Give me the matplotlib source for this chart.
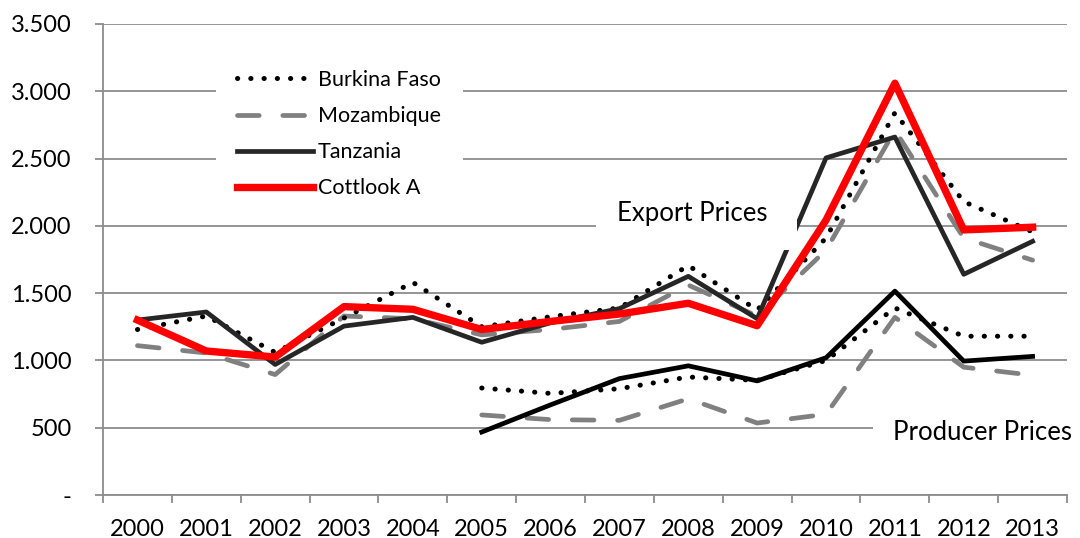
import matplotlib
matplotlib.use("Agg")
import matplotlib.pyplot as plt
import numpy as np
from matplotlib.patches import Rectangle
from matplotlib.ticker import FuncFormatter, FixedLocator

plt.rcParams['font.family'] = ['Lato', 'DejaVu Sans']

# ---- data ----
years = [2000, 2001, 2002, 2003, 2004, 2005, 2006, 2007, 2008, 2009, 2010, 2011, 2012, 2013]

# export prices
burkina_exp = [1230, 1330, 1060, 1315, 1580, 1250, 1325, 1390, 1705, 1375, 1910, 2840, 2180, 1955]
mozambique_exp = [1110, 1055, 895, 1330, 1310, 1190, 1230, 1290, 1560, 1330, 1820, 2710, 1910, 1745]
tanzania_exp = [1300, 1360, 970, 1255, 1320, 1135, 1280, 1385, 1625, 1310, 2505, 2660, 1640, 1885]
cottlook_a = [1300, 1070, 1025, 1400, 1380, 1230, 1290, 1345, 1425, 1258, 2043, 3060, 1970, 1990]

# producer prices (start in 2005)
burkina_prod = [None] * 5 + [795, 755, 790, 877, 852, 1000, 1390, 1180, 1180]
mozambique_prod = [None] * 5 + [595, 560, 555, 715, 535, 600, 1320, 950, 890]
tanzania_prod = [None] * 5 + [468, 670, 865, 960, 848, 1020, 1515, 995, 1030]

y_ticks = [0, 500, 1000, 1500, 2000, 2500, 3000, 3500]


def as_array(vals):
    return np.array([np.nan if v is None else v for v in vals], dtype=float)


fig = plt.figure(figsize=(10.8, 5.38), dpi=100)
ax = fig.add_axes([0.0954, 0.0799, 0.8926, 0.8755])

x = np.arange(len(years))
grey = '#8c8c8c'

dot_style = dict(color='black', lw=3.6, linestyle=(0, (0.05, 2.6)), dash_capstyle='round')
dash_style = dict(color='#808080', lw=3.4, linestyle=(0, (4.6, 5.0)), dash_capstyle='round')

# export prices
ax.plot(x, mozambique_exp, label='Mozambique', zorder=3, **dash_style)
ax.plot(x, burkina_exp, label='Burkina Faso', zorder=4, **dot_style)
ax.plot(x, tanzania_exp, color='#262626', lw=3.4, label='Tanzania', zorder=5)
ax.plot(x, cottlook_a, color='#ff0000', lw=5.3, label='Cottlook A', zorder=8)

# producer prices
ax.plot(x, as_array(mozambique_prod), zorder=3, **dash_style)
ax.plot(x, as_array(burkina_prod), zorder=4, **dot_style)
ax.plot(x, as_array(tanzania_prod), color='black', lw=3.4, zorder=5)

# white text boxes (they hide grid / lines like the original)
ax.add_patch(Rectangle((6.66, 1820), 2.92, 430, facecolor='white', edgecolor='none', zorder=6))
ax.add_patch(Rectangle((10.68, 330), 2.9, 290, facecolor='white', edgecolor='none', zorder=6,
                       clip_on=False))
ax.text(8.05, 2095, 'Export Prices', fontsize=18.5, ha='center', va='center', zorder=6.5)
ax.text(10.97, 468, 'Producer Prices', fontsize=18.5, ha='left', va='center', zorder=6.5)

# axes styling
ax.set_xlim(-0.5, len(years) - 0.5)
ax.set_ylim(0, 3500)
ax.yaxis.set_major_locator(FixedLocator(y_ticks))
ax.yaxis.set_major_formatter(FuncFormatter(
    lambda v, p: '-' if v == 0 else f'{v:,.0f}'.replace(',', '.')))
ax.set_xticks(x)
ax.set_xticklabels([str(y) for y in years])
ax.set_xticks(np.arange(-0.5, len(years)), minor=True)

ax.grid(axis='y', color=grey, lw=1.3, zorder=0)
ax.set_axisbelow(True)
for s in ['top', 'right']:
    ax.spines[s].set_visible(False)
for s in ['left', 'bottom']:
    ax.spines[s].set_color(grey)
    ax.spines[s].set_linewidth(1.3)

ax.tick_params(axis='x', which='major', length=0, pad=17, labelsize=17, colors='black')
ax.tick_params(axis='x', which='minor', length=6, width=1.3, color=grey)
ax.tick_params(axis='y', length=5.5, width=1.3, color=grey, pad=17, labelsize=17)

handles, labels = ax.get_legend_handles_labels()
order = ['Burkina Faso', 'Mozambique', 'Tanzania', 'Cottlook A']
hmap = dict(zip(labels, handles))
leg = ax.legend([hmap[k] for k in order], order, loc='upper left',
                bbox_to_anchor=(0.117, 0.948), borderaxespad=0, frameon=True,
                facecolor='white', edgecolor='none', framealpha=1, fancybox=False,
                fontsize=15.5, handlelength=3.5, handletextpad=0.25,
                labelspacing=0.75, borderpad=1.0)
leg.set_zorder(7)

fig.savefig('out.png', dpi=100)
